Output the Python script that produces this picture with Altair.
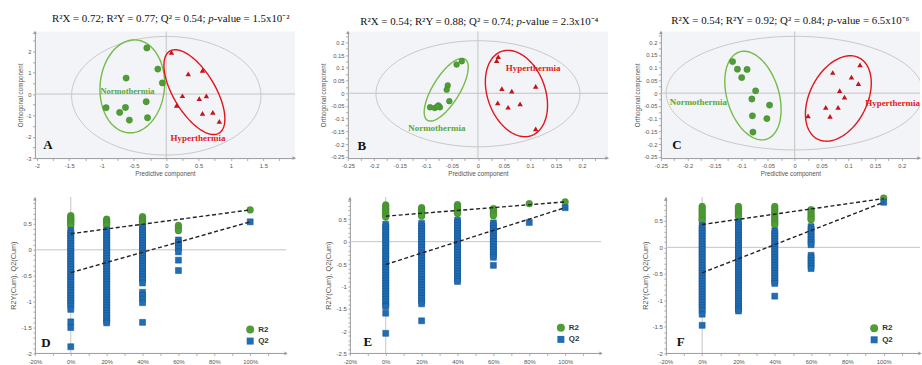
import math
import altair as alt
import pandas as pd

SERIF = "Liberation Serif"
SANS = "Liberation Sans"
GREEN = "#4e9e35"
GREEN_DARK = "#3b7d26"
RED = "#c3141b"
BLUE = "#1f6db4"
BLUE_DARK = "#124f8c"
RING_GREEN = "#74bb48"
RING_RED = "#e3141b"
RING_GRAY = "#c8c8c8"
TXT_GREEN = "#5aa83a"
TXT_RED = "#e01a21"
BG = "#f2f4f7"
AX = "#9a9a9a"
ZERO = "#c4c4c4"

# ---------------- score plots (OPLS-DA) ----------------
A_norm_x = [-0.30, -0.13, -0.62, -0.06, -0.93, -0.72, -0.63, -0.31, -0.57, -0.29]
A_norm_y = [2.16, 1.17, 0.75, 0.52, -0.64, -0.86, -0.63, -0.36, -1.22, -1.11]
A_hyp_x = [0.08, 0.34, 0.56, 0.25, 0.51, 0.62, 0.16, 0.56, 0.72, 0.82]
A_hyp_y = [1.95, 0.94, 1.11, -0.08, -0.22, -0.09, -0.53, -0.91, -0.86, -1.28]

B_norm_x = [-0.031, -0.041, -0.058, -0.060, -0.055, -0.092, -0.083, -0.076, -0.073, -0.078]
B_norm_y = [0.126, 0.113, 0.031, 0.014, -0.031, -0.055, -0.058, -0.048, -0.055, -0.052]
B_hyp_x = [0.039, 0.036, 0.046, 0.065, 0.111, 0.038, 0.058, 0.081, 0.111]
B_hyp_y = [0.144, 0.128, 0.018, 0.008, 0.027, -0.038, -0.055, -0.042, -0.140]

C_norm_x = [-0.116, -0.107, -0.089, -0.099, -0.073, -0.080, -0.047, -0.079, -0.052, -0.078]
C_norm_y = [0.124, 0.094, 0.093, 0.061, 0.009, -0.023, -0.047, -0.089, -0.100, -0.153]
C_hyp_x = [0.122, 0.071, 0.106, 0.119, 0.084, 0.093, 0.058, 0.081, 0.025, 0.066]
C_hyp_y = [0.111, 0.081, 0.063, 0.037, 0.010, -0.016, -0.056, -0.056, -0.089, -0.091]

# confidence ellipses: (ring, centre x, centre y, semi-axis a [px], semi-axis b [px], tilt deg)
A_rings = [("gray", 0.0, -0.08, 59.5, 95.0, 0), ("green", -0.525, 0.36, 46.7, 32.3, 5),
           ("red", 0.435, 0.09, 48.0, 21.0, -31)]
B_rings = [("gray", 0.0, -0.002, 53.2, 102.3, 0), ("green", -0.061, 0.014, 36.0, 13.5, 31.6),
           ("red", 0.074, -0.001, 44.8, 29.0, -19.6)]
C_rings = [("gray", 0.0, 0.0, 57.0, 129.0, 0), ("green", -0.078, -0.0095, 45.8, 26.0, -17),
           ("red", 0.0815, -0.021, 45.8, 28.8, 27)]

A_title = ["R²X = 0.72; R²Y = 0.77; Q² = 0.54;", "-value = 1.5x10⁻²"]
B_title = ["R²X = 0.54; R²Y = 0.88; Q² = 0.74;", "-value = 2.3x10⁻⁴"]
C_title = ["R²X = 0.54; R²Y = 0.92; Q² = 0.84;", "-value = 6.5x10⁻⁶"]

# ---------------- permutation plots ----------------
D_r2 = {0: [0.66, 0.63, 0.60, 0.58, 0.55, 0.52, 0.49, 0.46],
        20: [0.59, 0.56, 0.53, 0.50, 0.47],
        40: [0.64, 0.61, 0.58, 0.55, 0.52, 0.49],
        60: [0.47, 0.42, 0.37],
        100: [0.77]}
D_q2 = {0: [0.37, 0.32, 0.27, 0.22, 0.17, 0.12, 0.07, 0.02, -0.03, -0.08, -0.13, -0.18, -0.23,
            -0.28, -0.33, -0.38, -0.43, -0.48, -0.53, -0.58, -0.63, -0.68, -0.73, -0.78, -0.83,
            -0.88, -0.93, -0.98, -1.03, -1.08, -1.15, -1.39, -1.50, -1.87],
        20: [0.38, 0.33, 0.28, 0.23, 0.18, 0.13, 0.08, 0.03, -0.02, -0.07, -0.12, -0.17, -0.22,
             -0.27, -0.32, -0.37, -0.42, -0.47, -0.52, -0.57, -0.62, -0.67, -0.72, -0.77, -0.82,
             -0.87, -0.92, -0.97, -1.02, -1.07, -1.12, -1.17, -1.22, -1.27, -1.32, -1.37, -1.41],
        40: [0.43, 0.38, 0.33, 0.28, 0.23, 0.18, 0.13, 0.08, 0.03, -0.02, -0.07, -0.12, -0.17,
             -0.22, -0.27, -0.32, -0.37, -0.42, -0.47, -0.52, -0.57, -0.64, -0.82, -0.88, -0.95,
             -1.02, -1.40],
        60: [0.19, 0.14, 0.09, 0.03, -0.04, -0.20, -0.40],
        100: [0.54]}
D_fit = {"R2": [0.31, 0.77], "Q2": [-0.44, 0.54]}

E_r2 = {0: [0.82, 0.78, 0.74, 0.70, 0.66, 0.62, 0.58, 0.55],
        20: [0.76, 0.72, 0.68, 0.64, 0.60, 0.57],
        40: [0.83, 0.79, 0.75, 0.71, 0.67, 0.63],
        60: [0.74, 0.70, 0.66, 0.62, 0.58],
        80: [0.85],
        100: [0.89]}
E_q2 = {0: [0.39, 0.33, 0.27, 0.21, 0.15, 0.09, 0.03, -0.03, -0.09, -0.15, -0.21, -0.27, -0.33,
            -0.39, -0.45, -0.51, -0.57, -0.63, -0.69, -0.75, -0.81, -0.87, -0.93, -0.99, -1.05,
            -1.11, -1.17, -1.23, -1.29, -1.35, -1.41, -1.45, -1.60, -2.05],
        20: [0.41, 0.35, 0.29, 0.23, 0.17, 0.11, 0.05, -0.01, -0.07, -0.13, -0.19, -0.25, -0.31,
             -0.37, -0.43, -0.49, -0.55, -0.61, -0.67, -0.73, -0.79, -0.85, -0.91, -0.97, -1.03,
             -1.09, -1.15, -1.21, -1.27, -1.33, -1.39, -1.77],
        40: [0.48, 0.42, 0.36, 0.30, 0.24, 0.18, 0.12, 0.06, 0.0, -0.06, -0.12, -0.18, -0.24,
             -0.30, -0.36, -0.42, -0.48, -0.54, -0.60, -0.66, -0.72, -0.78, -0.84, -0.89],
        60: [0.42, 0.36, 0.30, 0.24, 0.18, 0.12, 0.06, 0.0, -0.06, -0.12, -0.18, -0.24, -0.30,
             -0.35, -0.53],
        80: [0.43],
        100: [0.76]}
E_fit = {"R2": [0.57, 0.89], "Q2": [-0.51, 0.76]}

F_r2 = {0: [0.77, 0.73, 0.69, 0.65, 0.61, 0.57, 0.53, 0.50],
        20: [0.77, 0.73, 0.69, 0.65, 0.61, 0.58],
        40: [0.77, 0.73, 0.69, 0.65, 0.61, 0.57, 0.53, 0.49, 0.45, 0.42],
        60: [0.71, 0.67, 0.63, 0.59, 0.55, 0.52],
        100: [0.93]}
F_q2 = {0: [0.41, 0.36, 0.31, 0.26, 0.21, 0.16, 0.11, 0.06, 0.01, -0.04, -0.09, -0.14, -0.19,
            -0.24, -0.29, -0.34, -0.39, -0.44, -0.49, -0.54, -0.59, -0.64, -0.69, -0.74, -0.79,
            -0.84, -0.89, -0.94, -0.99, -1.04, -1.09, -1.14, -1.19, -1.26, -1.47],
        20: [0.48, 0.43, 0.38, 0.33, 0.28, 0.23, 0.18, 0.13, 0.08, 0.03, -0.02, -0.07, -0.12,
             -0.17, -0.22, -0.27, -0.32, -0.37, -0.42, -0.47, -0.52, -0.57, -0.62, -0.67, -0.72,
             -0.77, -0.82, -0.87, -0.92, -0.97, -1.02, -1.07, -1.12, -1.16, -1.20],
        40: [0.31, 0.26, 0.21, 0.16, 0.11, 0.06, 0.01, -0.04, -0.09, -0.14, -0.19, -0.24, -0.29,
             -0.34, -0.39, -0.44, -0.49, -0.54, -0.59, -0.64, -0.68, -0.92],
        60: [0.39, 0.34, 0.29, 0.24, 0.19, 0.14, 0.09, 0.05, -0.15, -0.20, -0.25, -0.30, -0.35,
             -0.40],
        100: [0.85]}
F_fit = {"R2": [0.43, 0.92], "Q2": [-0.48, 0.85]}

ONE = pd.DataFrame({"k": [0]})
MINUS = "\u2212"
TITLE_FS = 10.9


def ticks(lo, hi, step):
    n = int(math.floor((hi - lo) / step + 1e-9))
    return [round(lo + k * step, 4) for k in range(n + 1)]


def lab_expr(step, maxv=None):
    cond = f"abs(datum.value/{step} - round(datum.value/{step})) < 0.01"
    if maxv is not None:
        cond += f" && datum.value <= {maxv}"
    return f"{cond} ? replace(format(datum.value, '~g'), '{MINUS}', '-') : ''"


def ring_df(cx, cy, a, b, tilt, sx, sy, n=140):
    th = math.radians(tilt)
    rows = []
    for k in range(n + 1):
        t = 2 * math.pi * k / n
        u, v = a * math.cos(t), b * math.sin(t)
        rows.append({"x": cx + (u * math.sin(th) + v * math.cos(th)) / sx,
                     "y": cy + (u * math.cos(th) - v * math.sin(th)) / sy, "i": k})
    return pd.DataFrame(rows)


def txt(text, x, y, size, color, font=SERIF, weight="normal", style="normal",
        align="center", baseline="middle", clip=False):
    return alt.Chart(ONE).mark_text(
        text=text, font=font, fontSize=size, fontWeight=weight, fontStyle=style,
        color=color, align=align, baseline=baseline, clip=clip).encode(x=x, y=y)


def score_panel(nx, ny, hx, hy, rings, xdom, ydom, w, h, xstep, ystep, xt0, yt0, title, p_x,
                title_y, labels, letter, letter_xy, ytitle_x, pt):
    sx = w / (xdom[1] - xdom[0])
    sy = h / (ydom[1] - ydom[0])
    xs = alt.Scale(domain=xdom, nice=False, zero=False)
    ys = alt.Scale(domain=ydom, nice=False, zero=False)
    xaxis = alt.Axis(values=ticks(xt0, xdom[1] - xstep / 4, xstep / 2),
                     labelExpr=lab_expr(xstep), title="Predictive component",
                     tickSize=2.5, labelPadding=1.5, titlePadding=2.5, labelFontSize=5.8,
                     titleFontSize=6.3)
    yaxis = alt.Axis(values=ticks(yt0, ydom[1] - ystep / 4, ystep / 2),
                     labelExpr=lab_expr(ystep), title="Orthogonal component",
                     tickSize=2.5, labelPadding=1.5, labelFontSize=5.8, titleFontSize=6.3,
                     titleX=ytitle_x, titleY=h / 2, titleBaseline="middle")

    def X(v):
        return alt.X(datum=v, scale=xs, axis=xaxis)

    def Y(v):
        return alt.Y(datum=v, scale=ys, axis=yaxis)

    layers = [
        alt.Chart(ONE).mark_rule(color=ZERO, strokeWidth=1).encode(x=X(0)),
        alt.Chart(ONE).mark_rule(color=ZERO, strokeWidth=1).encode(y=Y(0)),
    ]
    ring_col = {"gray": (RING_GRAY, 1.0), "green": (RING_GREEN, 1.4), "red": (RING_RED, 1.4)}
    for name, cx, cy, a, b, tilt in rings:
        col, sw = ring_col[name]
        layers.append(alt.Chart(ring_df(cx, cy, a, b, tilt, sx, sy)).mark_line(
            color=col, strokeWidth=sw, clip=True).encode(
            x=alt.X("x:Q", scale=xs, axis=xaxis), y=alt.Y("y:Q", scale=ys, axis=yaxis),
            order="i:Q"))
    layers.append(alt.Chart(pd.DataFrame({"x": nx, "y": ny})).mark_circle(
        size=pt, color=GREEN, opacity=1, stroke=GREEN_DARK, strokeWidth=0.4).encode(
        x=alt.X("x:Q", scale=xs, axis=xaxis), y=alt.Y("y:Q", scale=ys, axis=yaxis)))
    layers.append(alt.Chart(pd.DataFrame({"x": hx, "y": hy})).mark_point(
        shape="triangle-up", filled=True, size=30, color=RED, opacity=1).encode(
        x=alt.X("x:Q", scale=xs, axis=xaxis), y=alt.Y("y:Q", scale=ys, axis=yaxis)))
    for text, lx, ly, size, col, align, clip in labels:
        layers.append(txt(text, X(lx), Y(ly), size, col, weight="bold", align=align, clip=clip))
    layers.append(txt(letter, alt.value(letter_xy[0]), alt.value(letter_xy[1]), 13, "#111",
                      weight="bold"))
    # title: R²X ... ; p (italic) -value ...
    layers.append(txt(title[0], alt.value(p_x - 0.26 * TITLE_FS), alt.value(title_y), TITLE_FS,
                      "#111", align="right"))
    layers.append(txt("p", alt.value(p_x), alt.value(title_y), TITLE_FS, "#111", style="italic",
                      align="left"))
    layers.append(txt(title[1], alt.value(p_x + 0.5 * TITLE_FS), alt.value(title_y), TITLE_FS,
                      "#111", align="left"))
    # axis arrows
    layers.append(alt.Chart(ONE).mark_point(shape="triangle-right", filled=True, size=14,
                                            color=AX, opacity=1).encode(
        x=alt.value(w - 1), y=alt.value(h)))
    layers.append(alt.Chart(ONE).mark_point(shape="triangle-up", filled=True, size=14,
                                            color=AX, opacity=1).encode(
        x=alt.value(0), y=alt.value(1)))
    return alt.layer(*layers).properties(width=w, height=h,
                                         view=alt.ViewBackground(fill=BG, stroke=None))


def perm_panel(r2, q2, fit, xdom, ydom, w, h, axis_off, letter, letter_xy, legend_xy, ytitle_x):
    xs = alt.Scale(domain=xdom, nice=False, zero=False)
    ys = alt.Scale(domain=ydom, nice=False, zero=False)
    xaxis = alt.Axis(values=ticks(-20, 110, 10),
                     labelExpr="datum.value % 20 == 0 && datum.value <= 100 ? datum.value + '%' : ''",
                     title=None, domain=False, tickSize=2, labelPadding=3.5, labelFontSize=5.8)
    yaxis = alt.Axis(values=ticks(ydom[0], ydom[1] - 0.05, 0.1), labelExpr=lab_expr(0.5, 0.6),
                     title="R2Y(Cum), Q2(Cum)", offset=axis_off, tickSize=2, labelPadding=1.5,
                     labelFontSize=6, titleFontSize=7.3, titleX=ytitle_x, titleY=h / 2,
                     titleBaseline="middle")

    def X(v):
        return alt.X(datum=v, scale=xs, axis=xaxis)

    def Y(v):
        return alt.Y(datum=v, scale=ys, axis=yaxis)

    r2_df = pd.DataFrame([{"x": k, "y": v} for k, vals in r2.items() for v in vals])
    q2_df = pd.DataFrame([{"x": k, "y": v} for k, vals in q2.items() for v in vals])
    fit_df = pd.DataFrame([{"s": s, "x": xx, "y": yy} for s, vals in fit.items()
                           for xx, yy in zip([0, 100], vals)])
    enc = dict(x=alt.X("x:Q", scale=xs, axis=xaxis), y=alt.Y("y:Q", scale=ys, axis=yaxis))
    layers = [
        alt.Chart(ONE).mark_rule(color=ZERO, strokeWidth=1).encode(x=X(0)),
        alt.Chart(ONE).mark_rule(color=ZERO, strokeWidth=1).encode(
            x=X(-20), x2=alt.datum(120), y=Y(0)),
        alt.Chart(ONE).mark_rule(color=AX, strokeWidth=1).encode(
            x=X(-20), x2=alt.datum(120), y=alt.value(h)),
        alt.Chart(r2_df).mark_circle(size=46, color=GREEN, opacity=1, stroke=GREEN_DARK,
                                     strokeWidth=0.4).encode(**enc),
        alt.Chart(q2_df).mark_square(size=36, color=BLUE, opacity=1, stroke=BLUE_DARK,
                                     strokeWidth=0.5).encode(**enc),
        alt.Chart(fit_df).mark_line(color="#222", strokeWidth=1.4, strokeDash=[4, 2.5]).encode(
            detail="s:N", **enc),
        alt.Chart(ONE).mark_circle(size=64, color=GREEN, opacity=1).encode(
            x=alt.value(legend_xy[0]), y=alt.value(legend_xy[1])),
        alt.Chart(ONE).mark_square(size=49, color=BLUE, opacity=1).encode(
            x=alt.value(legend_xy[0]), y=alt.value(legend_xy[1] + 11.6)),
        txt("R2", alt.value(legend_xy[0] + 8), alt.value(legend_xy[1]), 8, "#333", font=SANS,
            weight="bold", align="left"),
        txt("Q2", alt.value(legend_xy[0] + 8), alt.value(legend_xy[1] + 11.6), 8, "#333",
            font=SANS, weight="bold", align="left"),
        txt(letter, alt.value(letter_xy[0]), alt.value(letter_xy[1]), 13, "#111", weight="bold"),
        alt.Chart(ONE).mark_point(shape="triangle-right", filled=True, size=14, color=AX,
                                  opacity=1).encode(x=X(120), y=alt.value(h)),
        alt.Chart(ONE).mark_point(shape="triangle-up", filled=True, size=14, color=AX,
                                  opacity=1).encode(x=X(-20), y=alt.value(2)),
    ]
    return alt.layer(*layers).properties(width=w, height=h)


A = score_panel(A_norm_x, A_norm_y, A_hyp_x, A_hyp_y, A_rings, [-2.03, 1.99], [-3, 2.93],
                261, 127, 0.5, 1.0, -2.0, -3.0, A_title, 174, -13,
                [("Normothermia", -0.60, 0.16, 8.5, TXT_GREEN, "center", False),
                 ("Hyperthermia", 0.49, -2.06, 9, TXT_RED, "center", False)],
                "A", (13, 114), -14.7, 40)
B = score_panel(B_norm_x, B_norm_y, B_hyp_x, B_hyp_y, B_rings, [-0.25, 0.25], [-0.255, 0.243],
                261, 127, 0.05, 0.05, -0.25, -0.25, B_title, 169.3, -9.3,
                [("Normothermia", -0.079, -0.136, 9, TXT_GREEN, "center", False),
                 ("Hyperthermia", 0.106, 0.0995, 9, TXT_RED, "center", False)],
                "B", (14, 115), -24, 34)
C = score_panel(C_norm_x, C_norm_y, C_hyp_x, C_hyp_y, C_rings, [-0.25, 0.234], [-0.255, 0.242],
                260, 127, 0.05, 0.05, -0.25, -0.25, C_title, 167.3, -10.7,
                [("Normothermia", -0.180, -0.033, 9, TXT_GREEN, "center", False),
                 ("Hyperthermia", 0.1316, -0.039, 9, TXT_RED, "left", True)],
                "C", (16, 114), -23.7, 40)
D = perm_panel(D_r2, D_q2, D_fit, [-20, 120], [-2, 1.02], 252, 157, 0, "D", (11, 147),
               (216, 133), -21.3)
E = perm_panel(E_r2, E_q2, E_fit, [-21.1, 120], [-2.5, 1.0], 254, 157, -2, "E", (20, 146),
               (213.7, 131.3), -21)
F = perm_panel(F_r2, F_q2, F_fit, [-22.75, 120], [-2, 0.95], 260, 157, -5, "F", (20, 146),
               (214, 131.7), -20)

chart = alt.concat(A, B, C, D, E, F, columns=3, spacing={"row": 39, "column": 53},
                   bounds="flush").properties(
    padding={"left": 9, "top": 12, "right": 0, "bottom": 0}
).configure_view(stroke=None).configure_axis(
    labelFont=SANS, titleFont=SANS, labelColor="#555", titleColor="#555",
    titleFontWeight="normal", domainColor=AX, tickColor=AX, grid=False,
    labelOverlap=False, labelFlush=False, tickWidth=0.8
)

chart.save("out.html", embed_options={"renderer": "svg", "actions": False})
